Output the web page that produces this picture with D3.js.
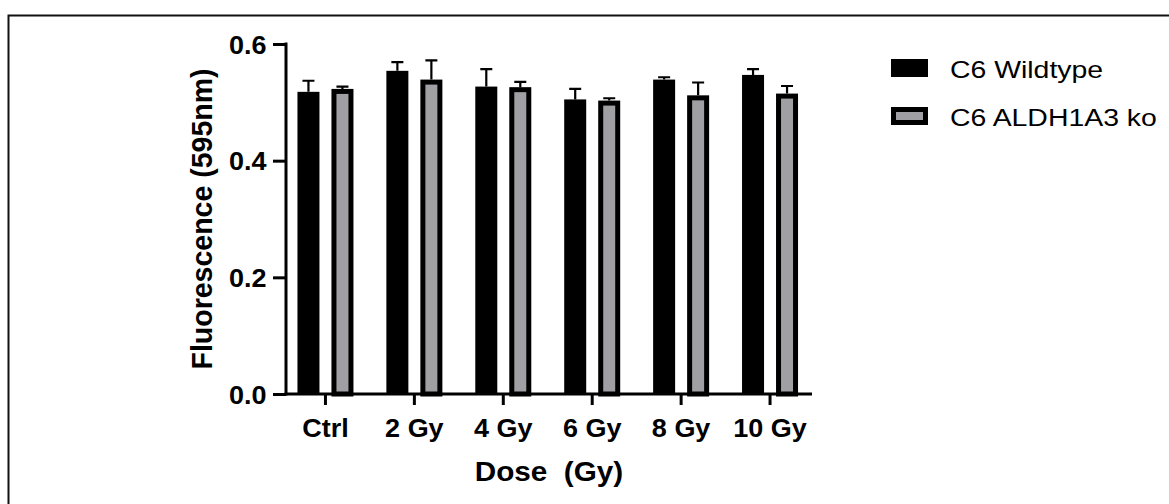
<!doctype html>
<html lang='en'>
<head>
    <meta charset='UTF-8'>
    <title>Fluorescence by dose</title>
    <style>
        body,html{
            margin: 0;
            padding: 0;
            background: #fff;
        }
        svg text{
            font-family: 'Liberation Sans', Arial, sans-serif;
            fill: #000;
        }
        .axis text{
            font-weight: bold;
            font-size: 25px;
        }
        .axis-title{
            font-weight: bold;
            font-size: 27px;
        }
        .legend text{
            font-size: 24.5px;
        }
    </style>
</head>
<body>
<script src='https://d3js.org/d3.v7.min.js'></script>
<script>
  const categories = ['Ctrl', '2 Gy', '4 Gy', '6 Gy', '8 Gy', '10 Gy']
  const series = ['C6 Wildtype', 'C6 ALDH1A3 ko']
  const wildtype = [0.518, 0.554, 0.527, 0.505, 0.539, 0.547]
  const wildtypeErr = [0.019, 0.015, 0.030, 0.018, 0.004, 0.010]
  const knockout = [0.523, 0.539, 0.526, 0.503, 0.512, 0.515]
  const knockoutErr = [0.004, 0.033, 0.009, 0.004, 0.022, 0.013]
  const yTicks = [0.0, 0.2, 0.4, 0.6]

  const w = 1169
  const h = 504
  const colors = {'C6 Wildtype': '#000', 'C6 ALDH1A3 ko': '#a0a0a4'}
  // the original figure is a little stretched sideways
  const stretch = 1.08

  const rows = categories.map((c, i) => ({
    key: c,
    values: [
      {s: series[0], v: wildtype[i], e: wildtypeErr[i]},
      {s: series[1], v: knockout[i], e: knockoutErr[i]}
    ]
  }))

  const svg = d3.select('body').append('svg')
    .attr('width', w)
    .attr('height', h)

  // frame (only top and left edges visible)
  svg.append('rect')
    .attr('x', 8.5).attr('y', 15.5)
    .attr('width', w + 20).attr('height', h + 20)
    .attr('fill', 'none')
    .attr('stroke', '#111')
    .attr('stroke-width', 2)

  const axisLeft = 286, axisRight = 812
  const y = d3.scaleLinear().domain([0, 0.6]).range([394, 44])

  const x = d3.scaleBand()
    .domain(categories)
    .range([281, 814.5])

  const xInner = d3.scaleBand()
    .domain(series)
    .range([-28, 28])
    .paddingInner(12 / 34)

  const chart = svg.append('g')

  // bars
  const groups = chart.selectAll('.group')
    .data(rows)
    .enter().append('g')
    .attr('class', 'group')
    .attr('transform', d => `translate(${x(d.key) + x.bandwidth() / 2},0)`)

  const bw = xInner.bandwidth()
  const sw = 5

  groups.selectAll('.err')
    .data(d => d.values)
    .enter().append('path')
    .attr('class', 'err')
    .attr('fill', 'none')
    .attr('stroke', '#000')
    .attr('stroke-width', 2.2)
    .attr('d', d => {
      const cx = xInner(d.s) + bw / 2
      const y0 = y(d.v), y1 = y(d.v + d.e)
      return `M${cx},${y0}V${y1}M${cx - 6},${y1}H${cx + 6}`
    })

  groups.selectAll('.bar')
    .data(d => d.values)
    .enter().append('rect')
    .attr('class', 'bar')
    .attr('x', d => d.s === series[1] ? xInner(d.s) + sw / 2 : xInner(d.s))
    .attr('y', d => d.s === series[1] ? y(d.v) + sw / 2 : y(d.v))
    .attr('width', d => d.s === series[1] ? bw - sw : bw)
    .attr('height', d => d.s === series[1] ? y(0) - y(d.v) - sw / 2 : y(0) - y(d.v))
    .attr('fill', d => colors[d.s])
    .attr('stroke', d => d.s === series[1] ? '#000' : 'none')
    .attr('stroke-width', sw)

  // y axis
  const yAxis = d3.axisLeft(y)
    .tickValues(yTicks)
    .tickFormat(d3.format('.1f'))
    .tickSize(13)
    .tickPadding(5)

  chart.append('g')
    .attr('class', 'y axis')
    .attr('transform', `translate(${axisLeft},0)`)
    .call(yAxis)
    .call(g => g.select('.domain').remove())
    .call(g => g.selectAll('line').attr('stroke', '#000').attr('stroke-width', 3))
    .call(g => g.selectAll('text').attr('dy', '0.36em').attr('transform', `scale(${stretch},1)`))

  chart.append('line')
    .attr('x1', axisLeft).attr('x2', axisLeft)
    .attr('y1', y(0.6) - 1.5).attr('y2', y(0) + 1.5)
    .attr('stroke', '#000').attr('stroke-width', 3)

  // x axis
  const xAxis = d3.axisBottom(x)
    .tickSize(11)
    .tickPadding(14)

  chart.append('g')
    .attr('class', 'x axis')
    .attr('transform', `translate(0,${y(0)})`)
    .call(xAxis)
    .call(g => g.select('.domain').remove())
    .call(g => g.selectAll('line').attr('stroke', '#000').attr('stroke-width', 3))
    .call(g => g.selectAll('text').attr('transform', `scale(${stretch},1)`))

  chart.append('line')
    .attr('x1', axisLeft - 1.5).attr('x2', axisRight)
    .attr('y1', y(0)).attr('y2', y(0))
    .attr('stroke', '#000').attr('stroke-width', 3)

  // axis titles
  chart.append('text')
    .attr('class', 'axis-title')
    .attr('text-anchor', 'middle')
    .attr('transform', `translate(${(axisLeft + axisRight) / 2}, 481) scale(1.1,1)`)
    .style('white-space', 'pre')
    .text('Dose  (Gy)')

  chart.append('text')
    .attr('class', 'axis-title')
    .attr('text-anchor', 'middle')
    .style('font-size', '28.5px')
    .attr('transform', `translate(212, ${(y(0) + y(0.6)) / 2}) rotate(-90) scale(1,1.05)`)
    .text('Fluorescence (595nm)')

  // legend
  const legend = svg.append('g')
    .attr('class', 'legend')
    .attr('transform', 'translate(891, 59)')

  const item = legend.selectAll('.item')
    .data(series)
    .enter().append('g')
    .attr('class', 'item')
    .attr('transform', (d, i) => `translate(0, ${i * 48})`)

  item.append('rect')
    .attr('x', d => d === series[1] ? sw / 2 : 0)
    .attr('y', d => d === series[1] ? sw / 2 : 0)
    .attr('width', d => d === series[1] ? 37 - sw : 37)
    .attr('height', d => d === series[1] ? 18 - sw : 18)
    .attr('fill', d => colors[d])
    .attr('stroke', d => d === series[1] ? '#000' : 'none')
    .attr('stroke-width', sw)

  item.append('text')
    .attr('transform', 'translate(59, 18.5) scale(1.16,1)')
    .text(d => d)
</script>
</body>
</html>
